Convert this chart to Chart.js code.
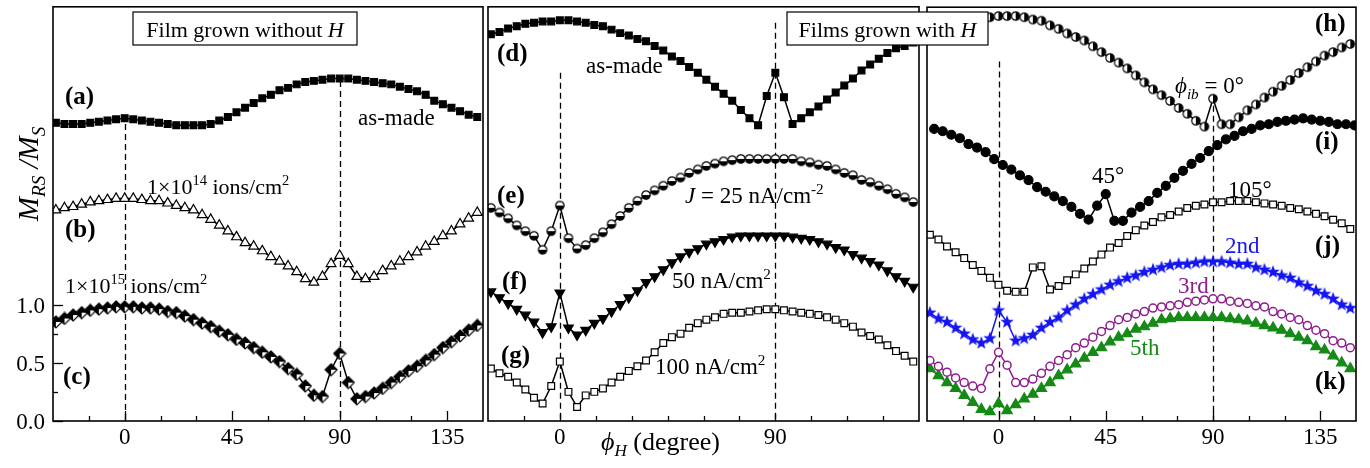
<!DOCTYPE html>
<html>
<head>
<meta charset="utf-8">
<script src="https://cdn.jsdelivr.net/npm/chart.js@4.4.0/dist/chart.umd.min.js"></script>
<style>
  body { margin: 0; background: #fff; }
  #wrap { position: relative; width: 1370px; height: 468px; }
  #wrap canvas { position: absolute; left: 0; top: 0; }
</style>
</head>
<body>
<div id="wrap">
  <canvas id="c1" width="1370" height="468"></canvas>
  <canvas id="c2" width="1370" height="468"></canvas>
  <canvas id="c3" width="1370" height="468"></canvas>
</div>
<script>
// field angle grids (degree)
const PHI = [-28.8, -25.2, -21.6, -18, -14.4, -10.8, -7.2, -3.6, 0, 3.6,
  7.2, 10.8, 14.4, 18, 21.6, 25.2, 28.8, 32.4, 36, 39.6,
  43.2, 46.8, 50.4, 54, 57.6, 61.2, 64.8, 68.4, 72, 75.6,
  79.2, 82.8, 86.4, 90, 93.6, 97.2, 100.8, 104.4, 108, 111.6,
  115.2, 118.8, 122.4, 126, 129.6, 133.2, 136.8, 140.4, 144, 147.6];
const PHI_45 = [-27, -23.4, -19.8, -16.2, -12.6, -9, -5.4, -1.8, 1.8, 5.4,
  9, 12.6, 16.2, 19.8, 23.4, 27, 30.6, 34.2, 37.8, 41.4,
  45, 48.6, 52.2, 55.8, 59.4, 63, 66.6, 70.2, 73.8, 77.4,
  81, 84.6, 88.2, 91.8, 95.4, 99, 102.6, 106.2, 109.8, 113.4,
  117, 120.6, 124.2, 127.8, 131.4, 135, 138.6, 142.2, 145.8, 149.4];

// M_RS/M_S curves, stacked with offsets
const A_ASMADE = [2.56, 2.55, 2.55, 2.55, 2.56, 2.57, 2.58, 2.59, 2.60, 2.59,
  2.58, 2.57, 2.56, 2.55, 2.54, 2.54, 2.54, 2.54, 2.55, 2.58,
  2.61, 2.65, 2.69, 2.73, 2.77, 2.80, 2.84, 2.86, 2.89, 2.91,
  2.92, 2.93, 2.94, 2.94, 2.94, 2.93, 2.92, 2.91, 2.90, 2.89,
  2.87, 2.85, 2.83, 2.80, 2.75, 2.72, 2.69, 2.66, 2.63, 2.61];
const B_1E14 = [1.81, 1.83, 1.84, 1.86, 1.88, 1.89, 1.90, 1.91, 1.91, 1.91,
  1.90, 1.89, 1.89, 1.87, 1.85, 1.83, 1.81, 1.77, 1.73, 1.68,
  1.63, 1.58, 1.53, 1.50, 1.46, 1.41, 1.37, 1.33, 1.28, 1.22,
  1.19, 1.24, 1.35, 1.42, 1.35, 1.24, 1.22, 1.24, 1.29, 1.33,
  1.37, 1.41, 1.45, 1.50, 1.54, 1.59, 1.63, 1.69, 1.74, 1.79];
const C_1E15 = [0.85, 0.88, 0.91, 0.93, 0.95, 0.96, 0.97, 0.98, 0.98, 0.98,
  0.97, 0.97, 0.96, 0.94, 0.93, 0.90, 0.87, 0.84, 0.81, 0.77,
  0.74, 0.70, 0.67, 0.63, 0.59, 0.55, 0.51, 0.45, 0.40, 0.30,
  0.22, 0.21, 0.44, 0.58, 0.33, 0.19, 0.21, 0.24, 0.28, 0.33,
  0.38, 0.43, 0.47, 0.52, 0.57, 0.63, 0.68, 0.73, 0.78, 0.82];
const D_ASMADE = [3.32, 3.34, 3.37, 3.39, 3.41, 3.42, 3.43, 3.43, 3.44, 3.44,
  3.43, 3.42, 3.40, 3.39, 3.36, 3.33, 3.31, 3.28, 3.26, 3.22,
  3.18, 3.13, 3.09, 3.04, 2.99, 2.93, 2.87, 2.81, 2.75, 2.67,
  2.60, 2.54, 2.79, 2.99, 2.78, 2.55, 2.60, 2.65, 2.70, 2.76,
  2.82, 2.88, 2.94, 3.01, 3.06, 3.11, 3.16, 3.20, 3.22, 3.25];
const E_25NA = [1.83, 1.79, 1.74, 1.68, 1.63, 1.59, 1.47, 1.63, 1.85, 1.57,
  1.48, 1.51, 1.57, 1.62, 1.69, 1.76, 1.83, 1.89, 1.94, 1.98,
  2.02, 2.06, 2.09, 2.13, 2.16, 2.19, 2.21, 2.23, 2.24, 2.25,
  2.25, 2.25, 2.25, 2.25, 2.25, 2.25, 2.23, 2.22, 2.20, 2.19,
  2.16, 2.13, 2.11, 2.07, 2.05, 2.02, 1.99, 1.95, 1.92, 1.88];
const F_50NA = [1.11, 1.06, 1.01, 0.96, 0.91, 0.85, 0.76, 0.81, 1.10, 0.80,
  0.74, 0.78, 0.84, 0.88, 0.94, 1.00, 1.06, 1.12, 1.19, 1.24,
  1.30, 1.36, 1.41, 1.45, 1.48, 1.52, 1.54, 1.56, 1.58, 1.59,
  1.59, 1.59, 1.59, 1.59, 1.59, 1.58, 1.57, 1.56, 1.54, 1.52,
  1.49, 1.47, 1.43, 1.40, 1.37, 1.34, 1.29, 1.24, 1.20, 1.15];
const G_100NA = [0.45, 0.41, 0.38, 0.33, 0.27, 0.20, 0.15, 0.30, 0.51, 0.25,
  0.12, 0.22, 0.25, 0.28, 0.33, 0.38, 0.43, 0.47, 0.52, 0.59,
  0.67, 0.72, 0.75, 0.80, 0.84, 0.87, 0.89, 0.92, 0.93, 0.93,
  0.94, 0.95, 0.96, 0.96, 0.95, 0.94, 0.93, 0.92, 0.91, 0.89,
  0.87, 0.84, 0.81, 0.76, 0.73, 0.70, 0.65, 0.60, 0.56, 0.51];
const H_IB0 = [3.33, 3.36, 3.39, 3.42, 3.44, 3.45, 3.47, 3.47, 3.48, 3.48,
  3.48, 3.47, 3.45, 3.44, 3.40, 3.37, 3.33, 3.30, 3.27, 3.22,
  3.17, 3.12, 3.08, 3.03, 2.97, 2.91, 2.85, 2.80, 2.75, 2.69,
  2.64, 2.58, 2.53, 2.77, 2.55, 2.55, 2.61, 2.67, 2.72, 2.78,
  2.83, 2.88, 2.93, 2.99, 3.04, 3.09, 3.14, 3.17, 3.21, 3.24];
const I_IB45 = [2.51, 2.49, 2.46, 2.43, 2.38, 2.35, 2.31, 2.25, 2.20, 2.16,
  2.11, 2.07, 2.01, 1.97, 1.93, 1.89, 1.84, 1.78, 1.73, 1.85,
  1.95, 1.72, 1.72, 1.79, 1.84, 1.89, 1.96, 2.02, 2.09, 2.15,
  2.21, 2.26, 2.32, 2.37, 2.42, 2.45, 2.49, 2.51, 2.54, 2.55,
  2.57, 2.58, 2.59, 2.60, 2.59, 2.58, 2.57, 2.55, 2.55, 2.54];
const J_IB105 = [1.60, 1.56, 1.50, 1.45, 1.40, 1.34, 1.29, 1.23, 1.17, 1.12,
  1.11, 1.11, 1.32, 1.33, 1.13, 1.16, 1.21, 1.26, 1.31, 1.37,
  1.43, 1.49, 1.53, 1.59, 1.64, 1.68, 1.71, 1.75, 1.77, 1.80,
  1.83, 1.85, 1.86, 1.88, 1.88, 1.89, 1.89, 1.89, 1.88, 1.87,
  1.86, 1.85, 1.83, 1.82, 1.80, 1.78, 1.76, 1.73, 1.70, 1.65];
const K_2ND = [0.93, 0.88, 0.85, 0.80, 0.75, 0.70, 0.67, 0.71, 0.95, 0.85,
  0.69, 0.71, 0.74, 0.80, 0.85, 0.89, 0.95, 1.00, 1.05, 1.09,
  1.13, 1.17, 1.20, 1.23, 1.25, 1.28, 1.30, 1.32, 1.34, 1.35,
  1.35, 1.36, 1.37, 1.37, 1.37, 1.36, 1.35, 1.35, 1.32, 1.30,
  1.28, 1.25, 1.23, 1.19, 1.16, 1.12, 1.09, 1.05, 1.00, 0.97];
const K_3RD = [0.52, 0.47, 0.42, 0.37, 0.33, 0.30, 0.28, 0.45, 0.59, 0.48,
  0.33, 0.33, 0.36, 0.41, 0.47, 0.52, 0.57, 0.63, 0.67, 0.72,
  0.77, 0.82, 0.87, 0.89, 0.92, 0.94, 0.97, 0.98, 0.99, 1.00,
  1.02, 1.03, 1.04, 1.05, 1.05, 1.03, 1.02, 1.01, 0.99, 0.98,
  0.94, 0.92, 0.89, 0.87, 0.82, 0.78, 0.75, 0.69, 0.67, 0.63];
const K_5TH = [0.45, 0.39, 0.33, 0.28, 0.22, 0.16, 0.10, 0.08, 0.15, 0.09,
  0.14, 0.19, 0.23, 0.28, 0.33, 0.39, 0.44, 0.49, 0.54, 0.59,
  0.63, 0.68, 0.72, 0.75, 0.79, 0.81, 0.84, 0.87, 0.88, 0.89,
  0.89, 0.89, 0.89, 0.89, 0.89, 0.88, 0.87, 0.86, 0.84, 0.82,
  0.80, 0.78, 0.75, 0.72, 0.69, 0.64, 0.61, 0.56, 0.50, 0.45];

const X_MINOR = [-15, 0, 15, 30, 45, 60, 75, 90, 105, 120, 135];
const Y_TICKS = [0, 0.25, 0.5, 0.75, 1.0];
const Y_LABELS = [0, 0.5, 1.0];

const SERIF = '"Liberation Serif", "Times New Roman", serif';
const BLUE = '#1515f2';
const PURPLE = '#8e1d8e';
const GREEN = '#168a16';

// point markers the library has no built-in style for
function markerCanvas(size, draw) {
  const c = document.createElement('canvas');
  c.width = c.height = size;
  draw(c.getContext('2d'), size / 2);
  return c;
}
const HALF_DIAMOND = markerCanvas(14, (g, m) => {
  const r = 6;
  const outline = () => {
    g.beginPath(); g.moveTo(m, m - r); g.lineTo(m + r, m); g.lineTo(m, m + r); g.lineTo(m - r, m); g.closePath();
  };
  outline(); g.fillStyle = '#fff'; g.fill();
  g.beginPath(); g.moveTo(m, m - r); g.lineTo(m + r, m); g.lineTo(m - r, m); g.closePath();
  g.fillStyle = '#000'; g.fill();
  g.beginPath(); g.moveTo(m - r, m); g.lineTo(m, m + r); g.lineTo(m, m); g.closePath(); g.fill();
  outline(); g.lineWidth = 1.2; g.strokeStyle = '#000'; g.stroke();
});
function halfCircle(a0, a1) {
  return markerCanvas(12, (g, m) => {
    const r = 4.2;
    g.beginPath(); g.arc(m, m, r, 0, 2 * Math.PI); g.fillStyle = '#fff'; g.fill();
    g.beginPath(); g.moveTo(m, m); g.arc(m, m, r, a0, a1); g.closePath(); g.fillStyle = '#000'; g.fill();
    g.beginPath(); g.arc(m, m, r, 0, 2 * Math.PI); g.lineWidth = 1.2; g.strokeStyle = '#000'; g.stroke();
  });
}
const CIRCLE_LOW = halfCircle(0, Math.PI);
const CIRCLE_RIGHT = halfCircle(-Math.PI / 2, Math.PI / 2);
const STAR = markerCanvas(16, (g, m) => {
  g.beginPath();
  for (let k = 0; k < 10; k++) {
    const r = k % 2 ? 2.9 : 7;
    const a = -Math.PI / 2 + k * Math.PI / 5;
    g.lineTo(m + r * Math.cos(a), m + r * Math.sin(a));
  }
  g.closePath(); g.fillStyle = BLUE; g.fill();
});

function series(xs, ys, style) {
  return Object.assign({
    data: xs.map((x, i) => ({ x: x, y: ys[i] })),
    borderColor: '#000', borderWidth: 1.5,
    pointBorderColor: '#000', pointBackgroundColor: '#000',
    pointBorderWidth: 1.2, pointRadius: 4.5, pointStyle: 'circle'
  }, style);
}

// text runs: {t, it, b, sup, sub}
function rich(ctx, x, y, runs, size, color, align) {
  let w = 0;
  const parts = runs.map(p => {
    const s = (p.sup || p.sub) ? size * 0.66 : size;
    const font = (p.it ? 'italic ' : '') + (p.b ? 'bold ' : '') + s + 'px ' + SERIF;
    ctx.font = font;
    const part = { t: p.t, font: font, dx: w, dy: p.sup ? -size * 0.4 : (p.sub ? size * 0.24 : 0) };
    w += ctx.measureText(p.t).width;
    return part;
  });
  const x0 = align === 'center' ? x - w / 2 : (align === 'right' ? x - w : x);
  ctx.fillStyle = color || '#000';
  ctx.textAlign = 'left';
  ctx.textBaseline = 'alphabetic';
  parts.forEach(p => { ctx.font = p.font; ctx.fillText(p.t, x0 + p.dx, y + p.dy); });
}

function boxedTitle(ctx, l, t, r, b, runs) {
  ctx.fillStyle = '#fff';
  ctx.fillRect(l, t, r - l, b - t);
  ctx.lineWidth = 1.2; ctx.strokeStyle = '#000';
  ctx.strokeRect(l, t, r - l, b - t);
  rich(ctx, (l + r) / 2, b - 8, runs, 22, '#000', 'center');
}

// per-canvas decoration, kept out of the chart options so functions are not treated as scriptable
const PANELS = {};

const panelPlugin = {
  id: 'panel',
  beforeDatasetsDraw(chart) {
    const p = PANELS[chart.canvas.id];
    const { ctx, chartArea: a, scales: { x, y } } = chart;
    ctx.save();
    ctx.strokeStyle = '#000'; ctx.lineWidth = 1.3; ctx.setLineDash([6, 4]);
    p.guides.forEach(([phi, top]) => {
      const px = Math.round(x.getPixelForValue(phi)) + 0.5;
      ctx.beginPath(); ctx.moveTo(px, y.getPixelForValue(top)); ctx.lineTo(px, a.bottom); ctx.stroke();
    });
    ctx.restore();
  },
  afterDatasetsDraw(chart) {
    const p = PANELS[chart.canvas.id];
    const { ctx, chartArea: a, scales: { x, y } } = chart;
    ctx.save();
    ctx.strokeStyle = '#000'; ctx.lineWidth = 1.6;
    ctx.strokeRect(a.left, a.top, a.right - a.left, a.bottom - a.top);
    ctx.lineWidth = 1.3;
    X_MINOR.forEach(v => {
      const px = Math.round(x.getPixelForValue(v)) + 0.5;
      const len = p.xMajor.includes(v) ? p.majorLen : 5;
      ctx.beginPath(); ctx.moveTo(px, a.bottom); ctx.lineTo(px, a.bottom - len); ctx.stroke();
    });
    p.xLabels.forEach(v => rich(ctx, x.getPixelForValue(v), a.bottom + 23, [{ t: String(v) }], 23, '#000', 'center'));
    if (p.yAxis) {
      Y_TICKS.forEach(v => {
        const py = Math.round(y.getPixelForValue(v)) + 0.5;
        const len = Y_LABELS.includes(v) ? 10 : 5;
        ctx.beginPath(); ctx.moveTo(a.left, py); ctx.lineTo(a.left + len, py); ctx.stroke();
      });
      Y_LABELS.forEach(v => rich(ctx, a.left - 8, y.getPixelForValue(v) + 8, [{ t: v.toFixed(1) }], 23, '#000', 'right'));
    }
    ctx.restore();
  },
  afterDraw(chart) {
    const p = PANELS[chart.canvas.id];
    const ctx = chart.ctx;
    ctx.save();
    p.notes.forEach(n => rich(ctx, n.x, n.y, n.runs, n.size || 23, n.color, n.align));
    if (p.extra) p.extra(ctx);
    ctx.restore();
  }
};

function panel(id, left, right, datasets, deco) {
  PANELS[id] = deco;
  return new Chart(document.getElementById(id), {
    type: 'line',
    data: { datasets: datasets },
    options: {
      responsive: false, animation: false, devicePixelRatio: 1,
      layout: { padding: { left: left, right: 1370 - right, top: 6, bottom: 47 } },
      scales: {
        x: { type: 'linear', min: -30, max: 150, display: false },
        y: { type: 'linear', min: 0, max: 3.556, display: false }
      },
      elements: { line: { tension: 0 } },
      plugins: { legend: { display: false }, tooltip: { enabled: false } }
    },
    plugins: [panelPlugin]
  });
}

const tag = (x, y, t) => ({ x: x, y: y, size: 25, runs: [{ t: t, b: true }] });

// left: film grown without field
panel('c1', 53, 483, [
  series(PHI, A_ASMADE, { pointStyle: 'rect', pointRadius: 4.8 }),
  series(PHI, B_1E14, { pointStyle: 'triangle', pointRadius: 5.6, pointBackgroundColor: '#fff' }),
  series(PHI, C_1E15, { pointStyle: HALF_DIAMOND })
], {
  xLabels: [0, 45, 90, 135], xMajor: [0, 45, 90, 135], majorLen: 10, yAxis: true,
  guides: [[0, 2.55], [90, 2.92]],
  notes: [
    tag(65, 104, '(a)'), tag(65, 237, '(b)'), tag(63, 384, '(c)'),
    { x: 358, y: 125, runs: [{ t: 'as-made' }] },
    { x: 147, y: 194, size: 22, runs: [{ t: '1×10' }, { t: '14', sup: 1 }, { t: ' ions/cm' }, { t: '2', sup: 1 }] },
    { x: 65, y: 293, size: 22, runs: [{ t: '1×10' }, { t: '15', sup: 1 }, { t: ' ions/cm' }, { t: '2', sup: 1 }] }
  ],
  extra(ctx) {
    boxedTitle(ctx, 133, 12, 357, 45, [{ t: 'Film grown without ' }, { t: 'H', it: 1 }]);
    ctx.translate(38, 174);
    ctx.rotate(-Math.PI / 2);
    rich(ctx, 0, 0, [{ t: 'M', it: 1 }, { t: 'RS', it: 1, sub: 1 }, { t: ' /', it: 1 }, { t: 'M', it: 1 }, { t: 'S', it: 1, sub: 1 }], 29, '#000', 'center');
  }
});

// middle: as-made and current-annealed films grown in field
panel('c2', 488, 919, [
  series(PHI, D_ASMADE, { pointStyle: 'rect', pointRadius: 4.8 }),
  series(PHI, E_25NA, { pointStyle: CIRCLE_LOW }),
  series(PHI, F_50NA, { pointStyle: 'triangle', rotation: 180, pointRadius: 5.6 }),
  series(PHI, G_100NA, { pointStyle: 'rect', pointRadius: 4.8, pointBackgroundColor: '#fff' })
], {
  xLabels: [0, 90], xMajor: [0, 90], majorLen: 7, yAxis: false,
  guides: [[0, 2.99], [90, 3.42]],
  notes: [
    tag(497, 61, '(d)'), tag(497, 203, '(e)'), tag(502, 289, '(f)'), tag(501, 363, '(g)'),
    { x: 586, y: 73, runs: [{ t: 'as-made' }] },
    { x: 685, y: 203, runs: [{ t: 'J', it: 1 }, { t: ' = 25 nA/cm' }, { t: '-2', sup: 1 }] },
    { x: 672, y: 288, runs: [{ t: '50 nA/cm' }, { t: '2', sup: 1 }] },
    { x: 655, y: 374, runs: [{ t: '100 nA/cm' }, { t: '2', sup: 1 }] },
    { x: 601, y: 450, size: 26, runs: [{ t: 'ϕ', it: 1 }, { t: 'H', it: 1, sub: 1 }, { t: ' (degree)' }] }
  ]
});

// right: ion-beam angle series and harmonics
panel('c3', 927, 1356, [
  series(PHI, H_IB0, { pointStyle: CIRCLE_RIGHT }),
  series(PHI_45, I_IB45, { pointStyle: 'circle', pointRadius: 4.5 }),
  series(PHI, J_IB105, { pointStyle: 'rect', pointRadius: 4.8, pointBackgroundColor: '#fff' }),
  series(PHI, K_2ND, { pointStyle: STAR, borderColor: BLUE }),
  series(PHI, K_3RD, { pointStyle: 'circle', pointRadius: 4, borderColor: PURPLE, pointBorderColor: PURPLE, pointBackgroundColor: '#fff', pointBorderWidth: 1.5 }),
  series(PHI, K_5TH, { pointStyle: 'triangle', pointRadius: 6, borderColor: GREEN, pointBorderColor: GREEN, pointBackgroundColor: GREEN })
], {
  xLabels: [0, 45, 90, 135], xMajor: [0, 45, 90, 135], majorLen: 10, yAxis: false,
  guides: [[0, 3.09], [90, 2.71]],
  notes: [
    tag(1315, 31, '(h)'), tag(1315, 149, '(i)'), tag(1315, 253, '(j)'), tag(1315, 389, '(k)'),
    { x: 1175, y: 93, runs: [{ t: 'ϕ', it: 1 }, { t: 'ib', it: 1, sub: 1 }, { t: ' = 0°' }] },
    { x: 1092, y: 183, runs: [{ t: '45°' }] },
    { x: 1228, y: 197, runs: [{ t: '105°' }] },
    { x: 1225, y: 253, color: BLUE, runs: [{ t: '2nd' }] },
    { x: 1178, y: 293, color: PURPLE, runs: [{ t: '3rd' }] },
    { x: 1130, y: 355, color: GREEN, runs: [{ t: '5th' }] }
  ],
  extra(ctx) {
    boxedTitle(ctx, 787, 12, 988, 45, [{ t: 'Films grown with ' }, { t: 'H', it: 1 }]);
  }
});
</script>
</body>
</html>
